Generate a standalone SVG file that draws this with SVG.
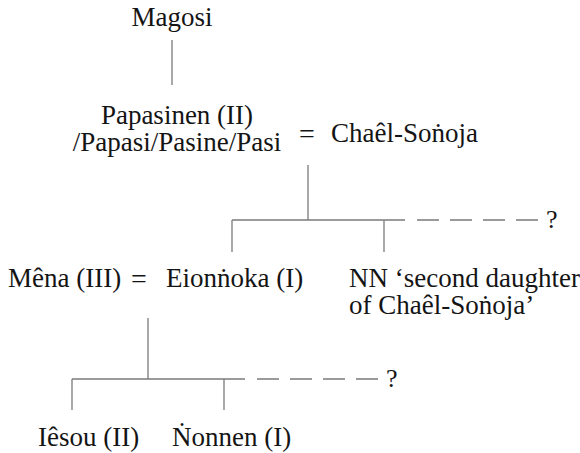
<svg xmlns="http://www.w3.org/2000/svg" width="580" height="453" viewBox="0 0 580 453">
<style>
text{font-family:'Liberation Serif','DejaVu Serif',serif;fill:#141414}
.t{font-size:27px}
.q{font-size:26px}
.eq{font-size:28px;text-anchor:middle}
.c{stroke:#7a7a7a;stroke-width:1.3;fill:none}
.d{stroke:#7a7a7a;stroke-width:1.3;fill:none;stroke-dasharray:22 11}
</style>
<rect width="580" height="453" fill="#fff"/>
<g id="connectors">
<line class="c" x1="172" y1="40" x2="172" y2="85"/>
<line class="c" x1="308" y1="165" x2="308" y2="220"/>
<line class="c" x1="232" y1="220" x2="405" y2="220"/>
<line class="c" x1="232" y1="220" x2="232" y2="252"/>
<line class="c" x1="384" y1="220" x2="384" y2="252"/>
<line class="d" x1="417" y1="220" x2="538" y2="220"/>
<text class="q" x="546" y="228">?</text>
<line class="c" x1="148" y1="318" x2="148" y2="379"/>
<line class="c" x1="72" y1="379" x2="245" y2="379"/>
<line class="c" x1="72" y1="379" x2="72" y2="410"/>
<line class="c" x1="224" y1="379" x2="224" y2="410"/>
<line class="d" x1="257" y1="379" x2="378" y2="379"/>
<text class="q" x="386" y="387">?</text>
</g>
<g id="magosi"><text class="t" x="172" y="26" text-anchor="middle">Magosi</text></g>
<g id="papasinen">
<text class="t" x="177" y="124" text-anchor="middle">Papasinen (II)</text>
<text class="t" x="177" y="151" text-anchor="middle">/Papasi/Pasine/Pasi</text>
</g>
<g id="marriage1"><text class="eq" x="307" y="143">=</text></g>
<g id="chael"><text class="t" x="331" y="142">Chaêl-Soṅoja</text></g>
<g id="mena"><text class="t" x="8" y="287">Mêna (III)</text></g>
<g id="marriage2"><text class="eq" x="139" y="288">=</text></g>
<g id="eionnoka"><text class="t" x="166" y="287">Eionṅoka (I)</text></g>
<g id="nn">
<text class="t" x="349" y="287">NN ‘second daughter</text>
<text class="t" x="349" y="314">of Chaêl-Soṅoja’</text>
</g>
<g id="iesou"><text class="t" x="38" y="446">Iêsou (II)</text></g>
<g id="nonnen"><text class="t" x="172" y="446">Ṅonnen (I)</text></g>
</svg>
